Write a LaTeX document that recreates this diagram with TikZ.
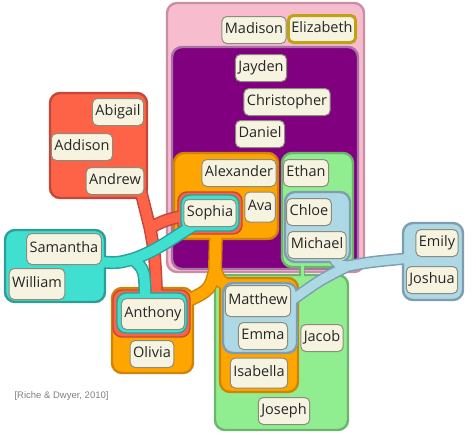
\documentclass[tikz,border=0pt]{standalone}
\usepackage{fontspec}
\setmainfont{Open Sans}
\newfontfamily\citefont{Liberation Sans}
\usetikzlibrary{positioning}

\definecolor{pinkF}{HTML}{F8BCCF}
\definecolor{pinkE}{HTML}{C98DA4}
\definecolor{purpleF}{HTML}{800080}
\definecolor{purpleE}{HTML}{A874A8}
\definecolor{orangeF}{HTML}{FFA500}
\definecolor{orangeE}{HTML}{CF8406}
\definecolor{greenF}{HTML}{90EE90}
\definecolor{greenE}{HTML}{6DB46D}
\definecolor{blueF}{HTML}{ADD8E6}
\definecolor{blueE}{HTML}{7F9DAE}
\definecolor{redF}{HTML}{FF6347}
\definecolor{redE}{HTML}{C4473A}
\definecolor{tealF}{HTML}{40E0D0}
\definecolor{tealE}{HTML}{2E9E98}
\definecolor{nameF}{HTML}{F6F3E1}
\definecolor{nameE}{HTML}{8C8C7C}
\definecolor{nameT}{HTML}{262626}
\definecolor{goldE}{HTML}{BFA315}

\tikzset{
    person/.style={draw=nameE, fill=nameF, line width=1pt, rounded corners=5pt,
        inner xsep=3pt, inner ysep=0pt, minimum height=27pt,
        text height=11pt, text depth=3.5pt, text=nameT,
        font=\fontsize{14.5}{16}\selectfont},
    setbox/.style={rounded corners=10pt, line width=2.4pt},
    ring/.style={rounded corners=9pt, line width=1.4pt},
    tube/.style={line cap=round, line join=round},
}

\begin{document}
\begin{tikzpicture}[x=1pt, y=-1pt]
    \useasboundingbox (0,0) rectangle (474,439);

    % tube ends
    \coordinate (redout) at (141,192);
    \coordinate (redfork) at (150,228);
    \coordinate (sophiaL) at (192,214);
    \coordinate (anthonyT) at (157,305);
    \coordinate (tealout) at (100,262);
    \coordinate (tealfork) at (133,259);
    \coordinate (sophiaB) at (200,222);
    \coordinate (anthonyTL) at (145,305);
    \coordinate (orangeout) at (216,232);
    \coordinate (orangefork) at (215,270);
    \coordinate (anthonyR) at (185,302);
    \coordinate (matthewTL) at (230,286);
    \coordinate (michaelB) at (332,255);
    \coordinate (bluefork) at (348,266);
    \coordinate (emilyL) at (412,258);
    \coordinate (matthewR) at (288,303);
    \coordinate (ethanB) at (302,262);
    \coordinate (jacobT) at (302,282);

    \path[save path=\redtube] (redout) .. controls (146,212) .. (redfork)
        .. controls (155,255) .. (anthonyT)
        (redfork) .. controls (165,220) .. (sophiaL);
    \path[save path=\tealtube] (tealout) .. controls (118,263) .. (tealfork)
        .. controls (160,250) and (180,232) .. (sophiaB)
        (tealfork) .. controls (145,270) .. (anthonyTL);
    \path[save path=\orangetube] (orangeout) -- (orangefork)
        .. controls (210,290) .. (anthonyR)
        (orangefork) .. controls (220,282) .. (matthewTL);
    \path[save path=\bluetube] (michaelB) .. controls (338,265) .. (bluefork)
        .. controls (370,262) .. (emilyL)
        (bluefork) .. controls (320,280) .. (matthewR);

    % pink and purple
    \draw[setbox, draw=pinkE, fill=pinkF] (167,3) rectangle (364,272);
    \draw[setbox, draw=purpleE, fill=purpleF] (172,47) rectangle (358,269);

    % green
    \draw[tube, line width=6pt, greenE] (ethanB) -- (jacobT);
    \draw[setbox, draw=greenE, fill=greenF] (282,153) rectangle (353,267);
    \draw[setbox, draw=greenE, fill=greenF] (215,275) rectangle (348,430);
    \draw[tube, line width=3pt, greenF] (ethanB) -- (jacobT);

    % orange
    \draw[tube, line width=14pt, orangeE, use path=\orangetube];
    \draw[setbox, draw=orangeE, fill=orangeF] (174,153) rectangle (278,239);
    \draw[setbox, draw=orangeE, fill=orangeF] (112,288) rectangle (193,373);
    \draw[setbox, draw=orangeE, fill=orangeF] (220,278) rectangle (298,392);
    \draw[tube, line width=11pt, orangeF, use path=\orangetube];

    % red
    \draw[tube, line width=13pt, redE, use path=\redtube];
    \draw[setbox, draw=redE, fill=redF] (50,93) rectangle (147,198);
    \draw[ring, draw=redE, fill=redF] (178,192) rectangle (242,234);
    \draw[ring, draw=redE, fill=redF] (113,290) rectangle (190,337);
    \draw[tube, line width=10pt, redF, use path=\redtube];

    % teal
    \draw[tube, line width=13pt, tealE, use path=\tealtube];
    \draw[setbox, draw=tealE, fill=tealF] (5,230) rectangle (105,302);
    \draw[ring, draw=tealE, fill=tealF] (181,195) rectangle (239,231);
    \draw[ring, draw=tealE, fill=tealF] (117,293) rectangle (187,333);
    \draw[tube, line width=10pt, tealF, use path=\tealtube];

    % blue
    \draw[tube, line width=12pt, blueE, use path=\bluetube];
    \draw[setbox, draw=blueE, fill=blueF] (285,192) rectangle (350,262);
    \draw[setbox, draw=blueE, fill=blueF] (223,283) rectangle (297,353);
    \draw[setbox, draw=blueE, fill=blueF] (403,223) rectangle (463,300);
    \draw[tube, line width=9pt, blueF, use path=\bluetube];

    % names
    \node[person] (madison) at (254,30) {Madison};
    \node[person, draw=goldE, line width=3pt] (elizabeth) at (322,29) {Elizabeth};
    \node[person] (jayden) at (261,68) {Jayden};
    \node[person] (christopher) at (287,102) {Christopher};
    \node[person] (daniel) at (260,134) {Daniel};
    \node[person] (alexander) at (239,173) {Alexander};
    \node[person, minimum height=30pt] (ava) at (260,207) {Ava};
    \node[person] (sophia) at (210,213) {Sophia};
    \node[person] (ethan) at (306,173) {Ethan};
    \node[person] (chloe) at (309,212) {Chloe};
    \node[person] (michael) at (317,245) {Michael};
    \node[person] (emily) at (437,243) {Emily};
    \node[person] (joshua) at (432,280) {Joshua};
    \node[person, minimum height=31pt] (matthew) at (258,301) {Matthew};
    \node[person] (emma) at (263,336) {Emma};
    \node[person, minimum height=30pt] (isabella) at (259,373) {Isabella};
    \node[person] (jacob) at (322,338) {Jacob};
    \node[person] (joseph) at (284,411) {Joseph};
    \node[person, minimum height=31pt] (anthony) at (153,314) {Anthony};
    \node[person] (olivia) at (152,354) {Olivia};
    \node[person] (abigail) at (118,112) {Abigail};
    \node[person] (addison) at (82,147) {Addison};
    \node[person] (andrew) at (115,181) {Andrew};
    \node[person, minimum height=31pt] (samantha) at (64,249) {Samantha};
    \node[person, minimum height=31pt] (william) at (37,284) {William};

    \node[font=\citefont\fontsize{9.5}{11}\selectfont, text=gray, anchor=west] (cite) at (11,396) {[Riche \& Dwyer, 2010]};
\end{tikzpicture}
\end{document}
